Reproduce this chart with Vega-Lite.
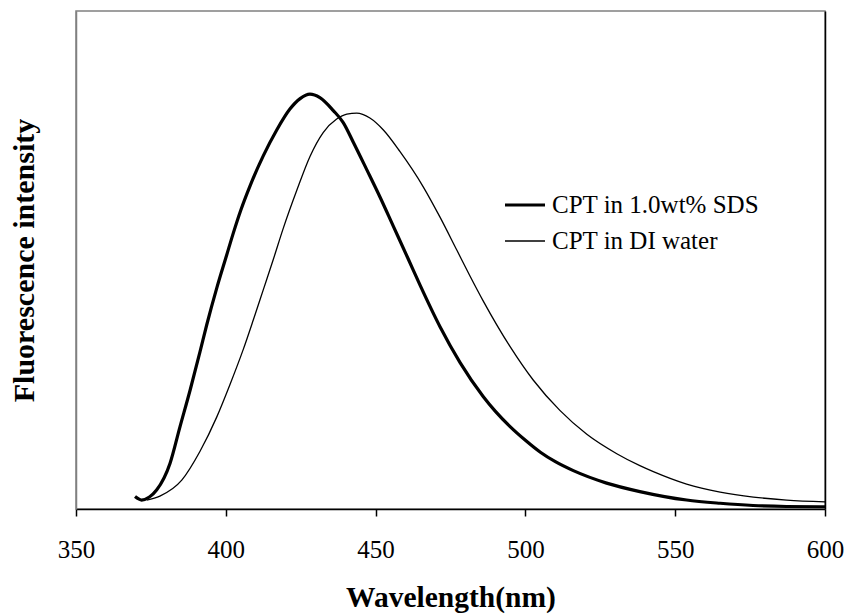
{
  "$schema": "https://vega.github.io/schema/vega-lite/v6.json",
  "width": 749,
  "height": 498,
  "autosize": "none",
  "padding": {"left": 76, "top": 11, "right": 20, "bottom": 107},
  "background": "white",
  "config": {
    "font": "Liberation Serif",
    "view": {"stroke": "#808080", "strokeWidth": 1.5}
  },
  "data": {
    "values": [
      {"series": "CPT in 1.0wt% SDS", "wavelength": 369.7, "intensity": 2.5},
      {"series": "CPT in 1.0wt% SDS", "wavelength": 371.9, "intensity": 1.8},
      {"series": "CPT in 1.0wt% SDS", "wavelength": 374.5, "intensity": 2.4},
      {"series": "CPT in 1.0wt% SDS", "wavelength": 376.9, "intensity": 3.8},
      {"series": "CPT in 1.0wt% SDS", "wavelength": 381.4, "intensity": 9.2},
      {"series": "CPT in 1.0wt% SDS", "wavelength": 384.7, "intensity": 16.5},
      {"series": "CPT in 1.0wt% SDS", "wavelength": 388.1, "intensity": 23.9},
      {"series": "CPT in 1.0wt% SDS", "wavelength": 391.4, "intensity": 31.6},
      {"series": "CPT in 1.0wt% SDS", "wavelength": 393.6, "intensity": 36.9},
      {"series": "CPT in 1.0wt% SDS", "wavelength": 397.0, "intensity": 44.4},
      {"series": "CPT in 1.0wt% SDS", "wavelength": 400.3, "intensity": 51.0},
      {"series": "CPT in 1.0wt% SDS", "wavelength": 402.5, "intensity": 55.4},
      {"series": "CPT in 1.0wt% SDS", "wavelength": 405.0, "intensity": 60.0},
      {"series": "CPT in 1.0wt% SDS", "wavelength": 408.1, "intensity": 64.9},
      {"series": "CPT in 1.0wt% SDS", "wavelength": 412.5, "intensity": 70.9},
      {"series": "CPT in 1.0wt% SDS", "wavelength": 417.0, "intensity": 76.1},
      {"series": "CPT in 1.0wt% SDS", "wavelength": 421.4, "intensity": 80.3},
      {"series": "CPT in 1.0wt% SDS", "wavelength": 424.8, "intensity": 82.4},
      {"series": "CPT in 1.0wt% SDS", "wavelength": 428.1, "intensity": 83.3},
      {"series": "CPT in 1.0wt% SDS", "wavelength": 431.4, "intensity": 82.6},
      {"series": "CPT in 1.0wt% SDS", "wavelength": 435.9, "intensity": 80.0},
      {"series": "CPT in 1.0wt% SDS", "wavelength": 439.2, "intensity": 77.6},
      {"series": "CPT in 1.0wt% SDS", "wavelength": 442.6, "intensity": 73.6},
      {"series": "CPT in 1.0wt% SDS", "wavelength": 447.0, "intensity": 68.2},
      {"series": "CPT in 1.0wt% SDS", "wavelength": 451.5, "intensity": 62.6},
      {"series": "CPT in 1.0wt% SDS", "wavelength": 455.9, "intensity": 56.8},
      {"series": "CPT in 1.0wt% SDS", "wavelength": 460.9, "intensity": 50.2},
      {"series": "CPT in 1.0wt% SDS", "wavelength": 464.8, "intensity": 45.0},
      {"series": "CPT in 1.0wt% SDS", "wavelength": 471.5, "intensity": 36.6},
      {"series": "CPT in 1.0wt% SDS", "wavelength": 478.2, "intensity": 29.4},
      {"series": "CPT in 1.0wt% SDS", "wavelength": 485.9, "intensity": 22.6},
      {"series": "CPT in 1.0wt% SDS", "wavelength": 490.0, "intensity": 19.6},
      {"series": "CPT in 1.0wt% SDS", "wavelength": 494.8, "intensity": 16.6},
      {"series": "CPT in 1.0wt% SDS", "wavelength": 500.0, "intensity": 13.8},
      {"series": "CPT in 1.0wt% SDS", "wavelength": 505.0, "intensity": 11.4},
      {"series": "CPT in 1.0wt% SDS", "wavelength": 510.0, "intensity": 9.5},
      {"series": "CPT in 1.0wt% SDS", "wavelength": 516.0, "intensity": 7.7},
      {"series": "CPT in 1.0wt% SDS", "wavelength": 527.1, "intensity": 5.2},
      {"series": "CPT in 1.0wt% SDS", "wavelength": 538.2, "intensity": 3.5},
      {"series": "CPT in 1.0wt% SDS", "wavelength": 553.8, "intensity": 1.8},
      {"series": "CPT in 1.0wt% SDS", "wavelength": 565.0, "intensity": 1.15},
      {"series": "CPT in 1.0wt% SDS", "wavelength": 576.0, "intensity": 0.7},
      {"series": "CPT in 1.0wt% SDS", "wavelength": 587.2, "intensity": 0.5},
      {"series": "CPT in 1.0wt% SDS", "wavelength": 600.0, "intensity": 0.45},
      {"series": "CPT in DI water", "wavelength": 373.6, "intensity": 1.8},
      {"series": "CPT in DI water", "wavelength": 378.0, "intensity": 2.6},
      {"series": "CPT in DI water", "wavelength": 385.3, "intensity": 5.8},
      {"series": "CPT in DI water", "wavelength": 391.4, "intensity": 11.6},
      {"series": "CPT in DI water", "wavelength": 397.0, "intensity": 18.5},
      {"series": "CPT in DI water", "wavelength": 401.4, "intensity": 25.0},
      {"series": "CPT in DI water", "wavelength": 405.8, "intensity": 32.0},
      {"series": "CPT in DI water", "wavelength": 409.2, "intensity": 38.0},
      {"series": "CPT in DI water", "wavelength": 412.5, "intensity": 44.0},
      {"series": "CPT in DI water", "wavelength": 415.9, "intensity": 50.2},
      {"series": "CPT in DI water", "wavelength": 419.2, "intensity": 56.4},
      {"series": "CPT in DI water", "wavelength": 423.7, "intensity": 64.0},
      {"series": "CPT in DI water", "wavelength": 428.1, "intensity": 70.8},
      {"series": "CPT in DI water", "wavelength": 432.5, "intensity": 75.6},
      {"series": "CPT in DI water", "wavelength": 437.0, "intensity": 78.3},
      {"series": "CPT in DI water", "wavelength": 440.4, "intensity": 79.3},
      {"series": "CPT in DI water", "wavelength": 443.7, "intensity": 79.5},
      {"series": "CPT in DI water", "wavelength": 448.1, "intensity": 78.5},
      {"series": "CPT in DI water", "wavelength": 452.6, "intensity": 76.1},
      {"series": "CPT in DI water", "wavelength": 458.1, "intensity": 71.8},
      {"series": "CPT in DI water", "wavelength": 465.9, "intensity": 64.7},
      {"series": "CPT in DI water", "wavelength": 471.5, "intensity": 58.6},
      {"series": "CPT in DI water", "wavelength": 477.1, "intensity": 52.0},
      {"series": "CPT in DI water", "wavelength": 481.5, "intensity": 46.8},
      {"series": "CPT in DI water", "wavelength": 485.9, "intensity": 41.8},
      {"series": "CPT in DI water", "wavelength": 494.9, "intensity": 32.6},
      {"series": "CPT in DI water", "wavelength": 502.6, "intensity": 25.9},
      {"series": "CPT in DI water", "wavelength": 511.5, "intensity": 19.8},
      {"series": "CPT in DI water", "wavelength": 520.5, "intensity": 15.0},
      {"series": "CPT in DI water", "wavelength": 530.5, "intensity": 11.1},
      {"series": "CPT in DI water", "wavelength": 538.2, "intensity": 8.7},
      {"series": "CPT in DI water", "wavelength": 542.7, "intensity": 7.5},
      {"series": "CPT in DI water", "wavelength": 553.8, "intensity": 5.0},
      {"series": "CPT in DI water", "wavelength": 565.0, "intensity": 3.4},
      {"series": "CPT in DI water", "wavelength": 576.1, "intensity": 2.4},
      {"series": "CPT in DI water", "wavelength": 587.2, "intensity": 1.8},
      {"series": "CPT in DI water", "wavelength": 600.0, "intensity": 1.45}
    ]
  },
  "layer": [
    {
      "mark": {"type": "line", "interpolate": "monotone"},
      "encoding": {
        "x": {
          "field": "wavelength",
          "type": "quantitative",
          "scale": {"domain": [350, 600], "nice": false, "zero": false},
          "axis": {
            "values": [350, 400, 450, 500, 550, 600],
            "grid": false,
            "domainColor": "black",
            "domainWidth": 1.5,
            "tickColor": "black",
            "tickWidth": 1.5,
            "tickSize": 7,
            "labelFontSize": 25,
            "labelColor": "black",
            "labelBaseline": "alphabetic",
            "labelPadding": 41,
            "labelFlush": false,
            "title": "Wavelength(nm)",
            "titleFontSize": 29.5,
            "titleFontWeight": "bold",
            "titleColor": "black",
            "titleBaseline": "alphabetic",
            "titleY": 97
          }
        },
        "y": {
          "field": "intensity",
          "type": "quantitative",
          "scale": {"domain": [0, 100], "nice": false},
          "axis": {
            "orient": "left",
            "grid": false,
            "labels": false,
            "ticks": false,
            "domainColor": "#808080",
            "domainWidth": 1.5,
            "title": "Fluorescence intensity",
            "titleFontSize": 30,
            "titleFontWeight": "bold",
            "titleColor": "black",
            "titleBaseline": "alphabetic",
            "titleX": -43,
            "titleY": 249
          }
        },
        "color": {
          "field": "series",
          "type": "nominal",
          "scale": {"domain": ["CPT in 1.0wt% SDS", "CPT in DI water"], "range": ["black", "black"]},
          "legend": {
            "title": null,
            "orient": "none",
            "legendX": 427,
            "legendY": 172,
            "symbolType": "stroke",
            "symbolSize": 1600,
            "symbolStrokeColor": "black",
            "labelFontSize": 25,
            "labelColor": "black",
            "labelOffset": 5,
            "labelLimit": 500,
            "rowPadding": 2
          }
        },
        "strokeWidth": {
          "field": "series",
          "type": "nominal",
          "scale": {"domain": ["CPT in 1.0wt% SDS", "CPT in DI water"], "range": [3.2, 1.3]},
          "legend": {
            "title": null,
            "orient": "none",
            "legendX": 427,
            "legendY": 172,
            "symbolType": "stroke",
            "symbolSize": 1600,
            "symbolStrokeColor": "black",
            "labelFontSize": 25,
            "labelColor": "black",
            "labelOffset": 5,
            "labelLimit": 500,
            "rowPadding": 2
          }
        }
      }
    },
    {
      "mark": {"type": "line", "opacity": 0},
      "encoding": {
        "x": {"field": "wavelength", "type": "quantitative"},
        "y": {
          "field": "intensity",
          "type": "quantitative",
          "axis": {"orient": "right", "grid": false, "labels": false, "ticks": false, "title": null, "domainColor": "black", "domainWidth": 1.5}
        }
      }
    }
  ],
  "resolve": {"axis": {"y": "independent"}}
}
